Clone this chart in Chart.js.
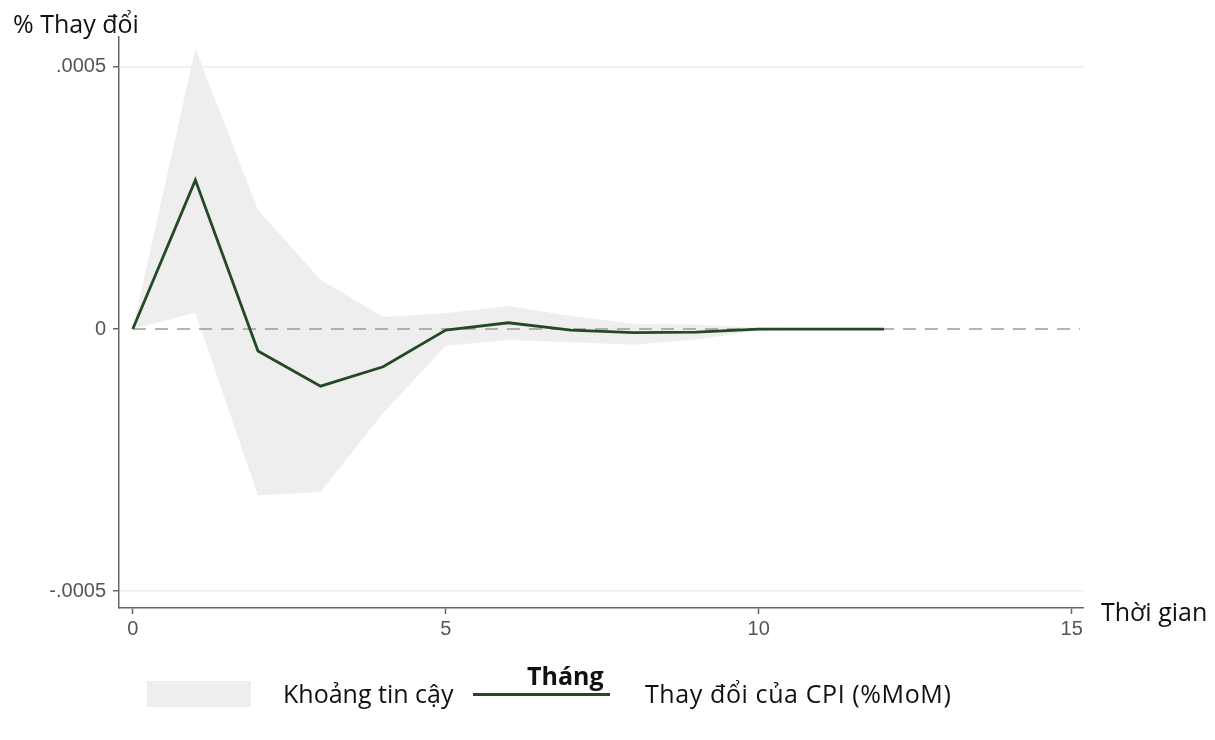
<!DOCTYPE html>
<html>
<head>
<meta charset="utf-8">
<script src="https://cdn.jsdelivr.net/npm/chart.js@4.4.1/dist/chart.umd.min.js"></script>
<style>
body { margin: 0; background: #fff; font-family: 'Open Sans', sans-serif; }
#wrap { position: relative; width: 1215px; height: 740px; overflow: hidden; }
#graficoIRF { position: absolute; left: 0; top: 0; }
.t { position: absolute; color: #111; font-size: 25px; line-height: 1; white-space: nowrap; }
.hop { position: absolute; background: #eeeeee; }
.duong { position: absolute; background: #234a25; }
</style>
</head>
<body>
<div id="wrap">
  <canvas id="graficoIRF" width="1215" height="740"></canvas>
  <div class="t" style="left:13px; top:11px;">% Thay đổi</div>
  <div class="t" style="left:1101px; top:599px;">Thời gian</div>
  <div class="t" style="left:527px; top:663px; font-weight:bold;">Tháng</div>
  <div class="hop" style="left:147px; top:681px; width:104px; height:26px;"></div>
  <div class="t" style="left:283px; top:681px;">Khoảng tin cậy</div>
  <div class="duong" style="left:473px; top:693px; width:137px; height:3px;"></div>
  <div class="t" style="left:645px; top:681px; letter-spacing:0.6px;">Thay đổi của CPI (%MoM)</div>
</div>
<script>
// du lieu doc tu hinh (ham phan ung cua CPI)
const thang = [0, 1, 2, 3, 4, 5, 6, 7, 8, 9, 10, 11, 12];
const cpi = [0, 0.000284, -0.000042, -0.000109, -0.000072, -0.000002, 0.000012, -0.000002, -0.000007, -0.000006, 0, 0, 0];
const canTren = [0, 0.000535, 0.000227, 0.000094, 0.000023, 0.000030, 0.000044, 0.000025, 0.000010, 0.000008, 0.000003, 0.000001, 0];
const canDuoi = [0, 0.000031, -0.000317, -0.000311, -0.000160, -0.000032, -0.000021, -0.000025, -0.000030, -0.000020, -0.000003, -0.000001, 0];
const xTicks = [0, 5, 10, 15];
const yTicks = [-0.0005, 0, 0.0005];
const yLabels = ['-.0005', '0', '.0005'];

document.addEventListener('DOMContentLoaded', function() {
    const toXY = arr => arr.map((v, i) => ({ x: thang[i], y: v }));

    // duong 0 net dut, ve ngay truoc duong CPI
    const duongKhong = {
        id: 'duongKhong',
        beforeDatasetDraw(chart, args) {
            if (args.index !== 2) return;
            const { ctx, chartArea, scales } = chart;
            const y = scales.y.getPixelForValue(0);
            ctx.save();
            ctx.strokeStyle = '#9a9a9a';
            ctx.lineWidth = 1.5;
            ctx.setLineDash([13, 9]);
            ctx.beginPath();
            ctx.moveTo(chartArea.left + 14, y);
            ctx.lineTo(chartArea.right - 3, y);
            ctx.stroke();
            ctx.restore();
        }
    };

    const ctx = document.getElementById('graficoIRF').getContext('2d');
    new Chart(ctx, {
        type: 'line',
        data: {
            datasets: [
                {
                    label: 'Khoảng tin cậy',
                    data: toXY(canTren),
                    borderWidth: 0,
                    pointRadius: 0,
                    backgroundColor: '#eeeeee',
                    fill: '+1',
                    order: 2
                },
                {
                    label: 'duoi',
                    data: toXY(canDuoi),
                    borderWidth: 0,
                    pointRadius: 0,
                    fill: false,
                    order: 1
                },
                {
                    label: 'Thay đổi của CPI (%MoM)',
                    data: toXY(cpi),
                    borderColor: '#234a25',
                    borderWidth: 2.8,
                    pointRadius: 0,
                    fill: false,
                    tension: 0,
                    order: 0
                }
            ]
        },
        options: {
            responsive: false,
            animation: false,
            layout: { padding: { top: 37, right: 132, bottom: 92, left: 0 } },
            plugins: {
                legend: { display: false },
                tooltip: { enabled: false }
            },
            scales: {
                x: {
                    type: 'linear',
                    min: -0.22,
                    max: 15.18,
                    afterBuildTicks: s => { s.ticks = xTicks.map(v => ({ value: v })); },
                    afterFit: s => { s.height = 40; },
                    grid: { drawOnChartArea: false, tickLength: 6, tickColor: '#666', tickWidth: 1.5 },
                    border: { color: '#666', width: 1.5 },
                    ticks: {
                        color: '#555',
                        padding: 3,
                        maxRotation: 0,
                        font: { family: 'Liberation Sans', size: 20 }
                    }
                },
                y: {
                    min: -0.000532,
                    max: 0.000557,
                    afterBuildTicks: s => { s.ticks = yTicks.map(v => ({ value: v })); },
                    afterFit: s => { s.width = 119; },
                    grid: {
                        color: c => (c.tick && c.tick.value === 0) ? 'rgba(0,0,0,0)' : '#ececec',
                        lineWidth: 1.5,
                        tickLength: 6,
                        tickColor: '#666',
                        tickWidth: 1.5
                    },
                    border: { color: '#666', width: 1.5 },
                    ticks: {
                        color: '#555',
                        padding: 7,
                        font: { family: 'Liberation Sans', size: 20 },
                        callback: (v, i) => yLabels[i]
                    }
                }
            }
        },
        plugins: [duongKhong]
    });
});
</script>
</body>
</html>
